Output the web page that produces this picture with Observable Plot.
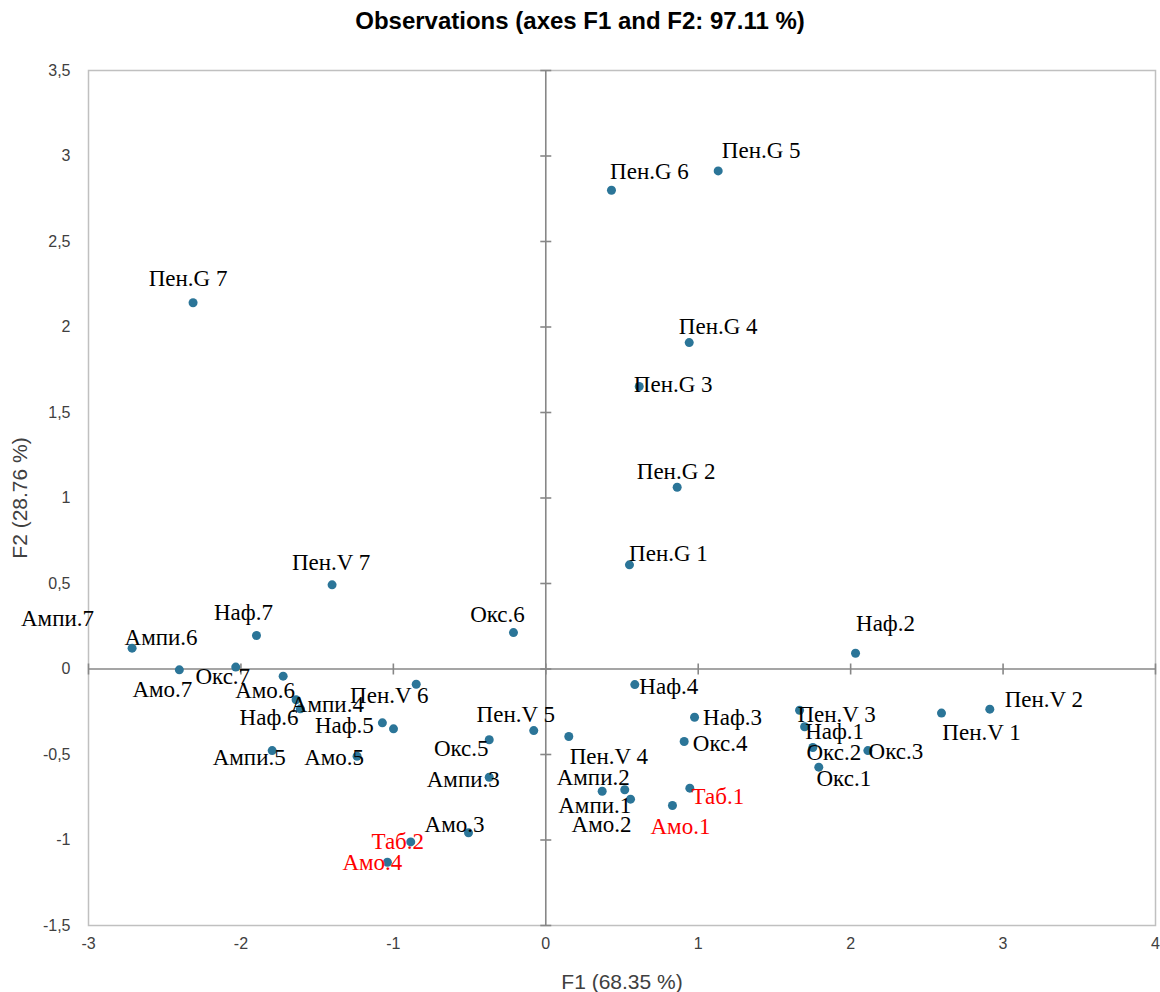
<!DOCTYPE html>
<html>
<head>
<meta charset="utf-8">
<script src="https://cdn.jsdelivr.net/npm/d3@7"></script>
<script src="https://cdn.jsdelivr.net/npm/@observablehq/plot@0.6"></script>
<style>
  body { margin: 0; background: #fff; }
  #title {
    height: 50px; box-sizing: border-box; padding-top: 7px;
    font: bold 24px "Liberation Sans", Arial, sans-serif; line-height: 28px;
    text-align: center; color: #000;
  }
</style>
</head>
<body>
<div id="title">Observations (axes F1 and F2: 97.11 %)</div>
<div id="chart"></div>
<script>
// Observation names with their factor scores on F1 and F2
const names = [
  "Амо.1", "Амо.2", "Амо.3", "Амо.4", "Амо.5", "Амо.6", "Амо.7",
  "Ампи.1", "Ампи.2", "Ампи.3", "Ампи.4", "Ампи.5", "Ампи.6", "Ампи.7",
  "Окс.1", "Окс.2", "Окс.3", "Окс.4", "Окс.5", "Окс.6", "Окс.7",
  "Наф.1", "Наф.2", "Наф.3", "Наф.4", "Наф.5", "Наф.6", "Наф.7",
  "Пен.V 1", "Пен.V 2", "Пен.V 3", "Пен.V 4", "Пен.V 5", "Пен.V 6", "Пен.V 7",
  "Пен.G 1", "Пен.G 2", "Пен.G 3", "Пен.G 4", "Пен.G 5", "Пен.G 6", "Пен.G 7",
  "Таб.1", "Таб.2"
];
const f1 = [
  0.831, 0.556, -0.507, -1.039, -1.238, -1.723, -2.404,
  0.518, 0.370, -0.371, -1.610, -1.795, -2.714, -0.999,
  1.791, 1.752, 2.113, 0.908, -0.371, -0.212, -2.034,
  1.698, 2.032, 0.976, 0.584, -1.072, -1.638, -1.898,
  2.596, 2.913, 1.665, 0.151, -0.079, -0.850, -1.402,
  0.549, 0.862, 0.613, 0.941, 1.131, 0.431, -2.314,
  0.945, -0.886
];
const f2 = [
  -0.798, -0.761, -0.958, -1.130, -0.510, -0.042, -0.005,
  -0.706, -0.715, -0.633, -0.233, -0.477, 0.122, -0.350,
  -0.574, -0.459, -0.477, -0.424, -0.414, 0.213, 0.011,
  -0.338, 0.092, -0.282, -0.091, -0.315, -0.180, 0.196,
  -0.258, -0.235, -0.241, -0.395, -0.360, -0.089, 0.492,
  0.609, 1.063, 1.652, 1.909, 2.913, 2.800, 2.142,
  -0.697, -1.011
];
// Observations whose labels are shown in red
const highlighted = ["Амо.1", "Амо.4", "Таб.1", "Таб.2"];

const xTicks = [-3, -2, -1, 0, 1, 2, 3, 4];
const yTicks = [-1.5, -1, -0.5, 0, 0.5, 1, 1.5, 2, 2.5, 3, 3.5];

// Label placement: pixel shift of each label's centre from its point
const labelShift = {
  "Амо.1": [8, 21], "Амо.2": [-29, 25], "Амо.3": [-14, -8], "Амо.4": [-15, 0],
  "Амо.5": [-23, 1], "Амо.6": [-18, 14], "Амо.7": [-17, 20],
  "Ампи.1": [-30, 16], "Ампи.2": [-9, -14], "Ампи.3": [-26, 2], "Ампи.4": [27, -4],
  "Ампи.5": [-23, 7], "Ампи.6": [29, -11], "Ампи.7": [-336, -110],
  "Окс.1": [25, 11], "Окс.2": [21, 5], "Окс.3": [28, 1], "Окс.4": [36, 2],
  "Окс.5": [-28, 9], "Окс.6": [-16, -18], "Окс.7": [-13, 10],
  "Наф.1": [30, 5], "Наф.2": [30, -30], "Наф.3": [38, 0], "Наф.4": [34, 2],
  "Наф.5": [-38, 3], "Наф.6": [-27, 18], "Наф.7": [-13, -23],
  "Пен.V 1": [40, 20], "Пен.V 2": [54, -10], "Пен.V 3": [37, 4], "Пен.V 4": [40, 20],
  "Пен.V 5": [-18, -16], "Пен.V 6": [-27, 11], "Пен.V 7": [-1, -22],
  "Пен.G 1": [39, -11], "Пен.G 2": [-1, -16], "Пен.G 3": [34, -2], "Пен.G 4": [29, -16],
  "Пен.G 5": [43, -20], "Пен.G 6": [38, -19], "Пен.G 7": [-5, -24],
  "Таб.1": [28, 8], "Таб.2": [-13, 0]
};

const points = names.map((name, i) => ({name, f1: f1[i], f2: f2[i]}));

const commaFormat = d => String(d).replace(".", ",");
const axisGray = "#878787";

// Short segment symbols for the tick marks that cross the zero axes
const hSeg = {draw(ctx, size) { const r = Math.sqrt(size / Math.PI); ctx.moveTo(-r, 0); ctx.lineTo(r, 0); }};
const vSeg = {draw(ctx, size) { const r = Math.sqrt(size / Math.PI); ctx.moveTo(0, -r); ctx.lineTo(0, r); }};

const labelMarks = points.map(d => Plot.text([d], {
  x: "f1", y: "f2", text: "name",
  dx: labelShift[d.name][0], dy: labelShift[d.name][1],
  fill: highlighted.includes(d.name) ? "#ff0000" : "#000000",
  fontFamily: "Liberation Serif", fontSize: 23,
  textAnchor: "middle", lineAnchor: "middle"
}));

const chart = Plot.plot({
  width: 1160,
  height: 942,
  marginTop: 20,
  marginBottom: 67,
  marginLeft: 88,
  marginRight: 5,
  style: {fontFamily: "Liberation Sans, Arial, sans-serif", fontSize: "16px", color: "#404040", background: "#fff"},
  x: {domain: [-3, 4]},
  y: {domain: [-1.5, 3.5]},
  marks: [
    Plot.frame({stroke: "#c0c0c0", strokeWidth: 1.5}),
    Plot.axisX(xTicks, {tickSize: 0, tickPadding: 12, tickFormat: commaFormat, label: null, fontSize: 16}),
    Plot.axisY(yTicks, {tickSize: 0, tickPadding: 18, tickFormat: commaFormat, label: null, fontSize: 16}),
    Plot.ruleY([0], {stroke: axisGray, strokeWidth: 1.6}),
    Plot.ruleX([0], {stroke: axisGray, strokeWidth: 1.6}),
    Plot.dot(yTicks, {x: () => 0, y: d => d, symbol: hSeg, r: 5.5, stroke: axisGray, strokeWidth: 1.6}),
    Plot.dot(xTicks, {x: d => d, y: () => 0, symbol: vSeg, r: 5.5, stroke: axisGray, strokeWidth: 1.6}),
    Plot.dot(points, {x: "f1", y: "f2", r: 4.5, fill: "#2b7598", stroke: "none"}),
    ...labelMarks,
    Plot.text(["F1 (68.35 %)"], {frameAnchor: "bottom", dy: 57, fontSize: 21, fill: "#404040", textAnchor: "middle", lineAnchor: "middle"}),
    Plot.text(["F2 (28.76 %)"], {frameAnchor: "left", dx: -68, rotate: -90, fontSize: 21, fill: "#404040", textAnchor: "middle", lineAnchor: "middle"})
  ]
});
document.getElementById("chart").append(chart);
</script>
</body>
</html>
